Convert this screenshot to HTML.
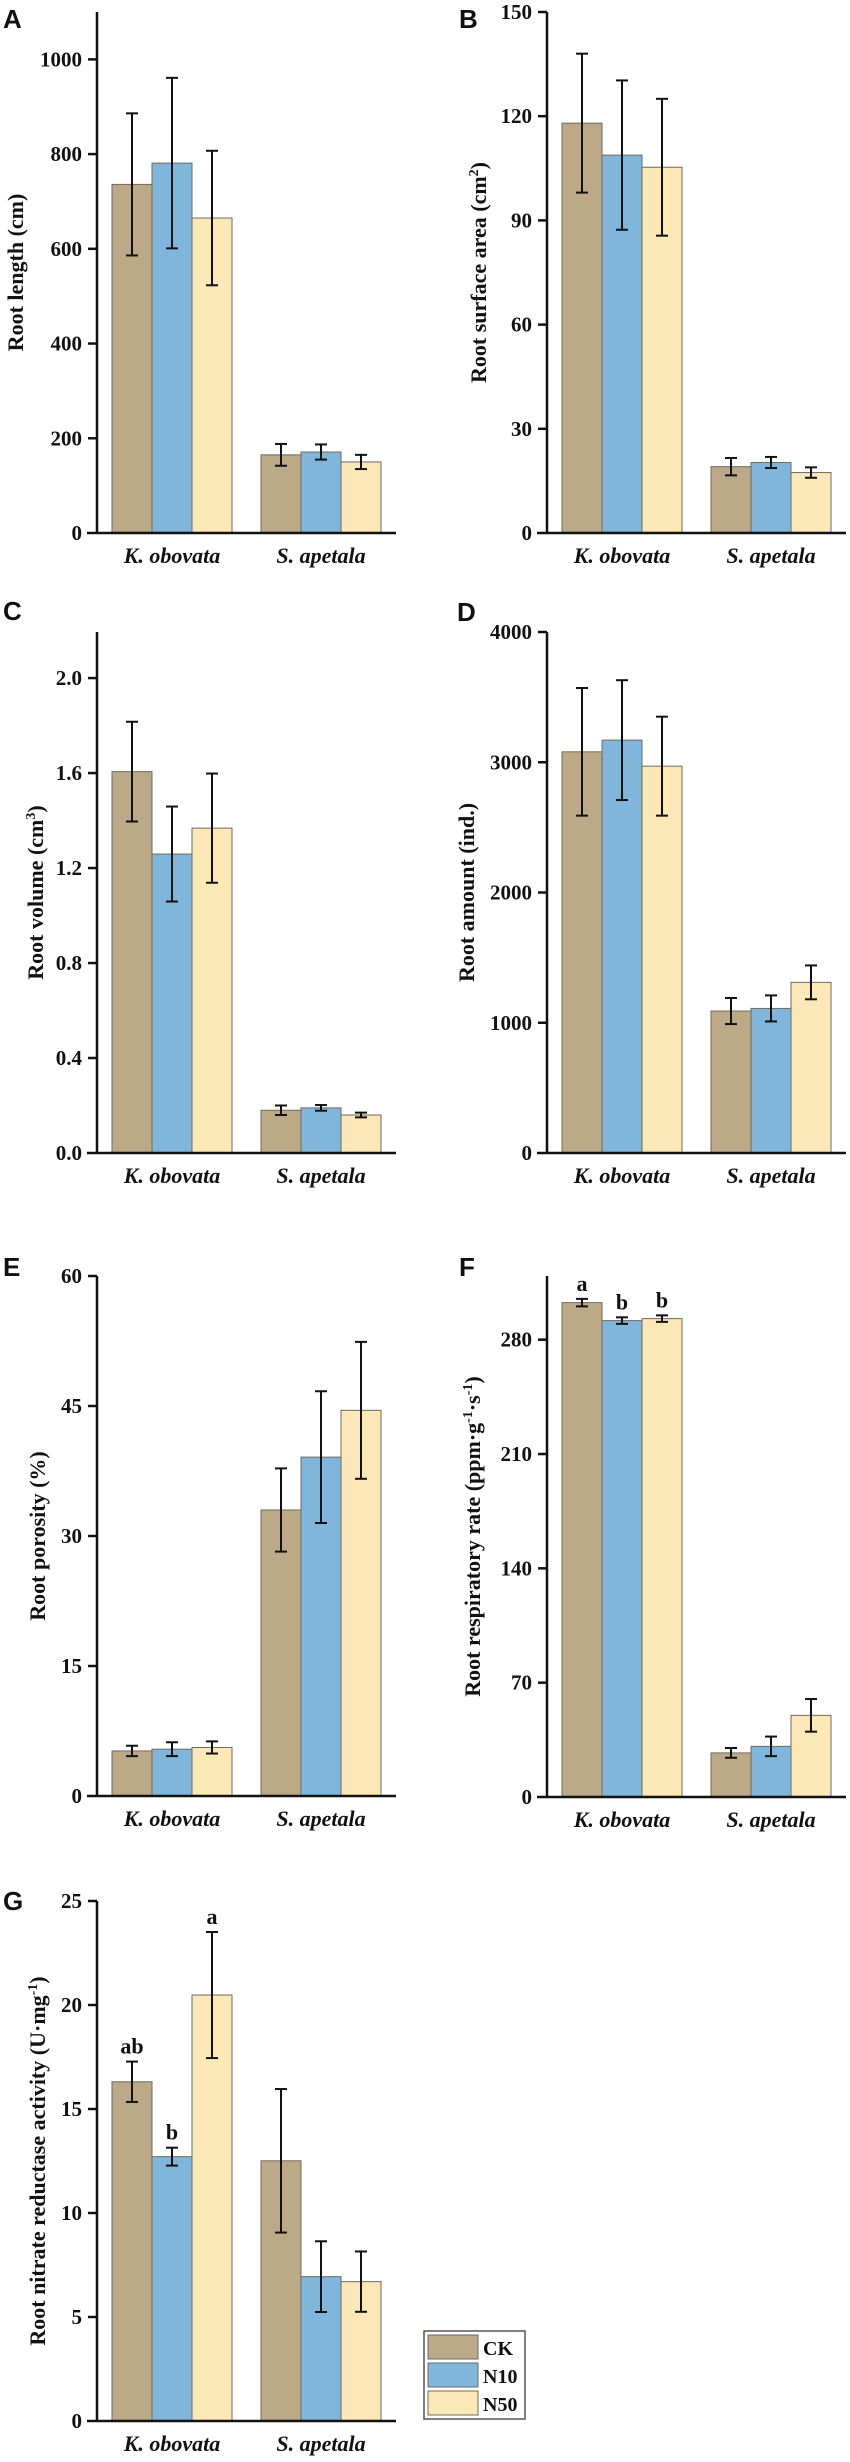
<!DOCTYPE html>
<html><head><meta charset="utf-8"><style>
html,body{margin:0;padding:0;background:#fff;}
svg{display:block;}
text{font-family:"Liberation Serif",serif;font-weight:bold;fill:#111;}
.lt{font-family:"Liberation Sans",sans-serif;font-weight:bold;font-size:26px;}
</style></head><body>
<svg id="fig" width="850" height="2462" viewBox="0 0 850 2462" xmlns="http://www.w3.org/2000/svg"></svg>
<script>
const categories = ["K. obovata", "S. apetala"];
const seriesNames = ["CK", "N10", "N50"];
const seriesColors = ["#bba987", "#80b6dc", "#fce8b6"];

const aMeans = [[736, 781, 665], [165, 171, 150]];
const aSD = [[150, 180, 142], [23, 16, 15]];
const aTicks = [0, 200, 400, 600, 800, 1000];

const bMeans = [[118, 108.8, 105.3], [19.1, 20.3, 17.4]];
const bSD = [[20, 21.5, 19.7], [2.5, 1.6, 1.5]];
const bTicks = [0, 30, 60, 90, 120, 150];

const cMeans = [[1.606, 1.259, 1.368], [0.18, 0.19, 0.16]];
const cSD = [[0.21, 0.2, 0.23], [0.02, 0.012, 0.01]];
const cTicks = [0.0, 0.4, 0.8, 1.2, 1.6, 2.0];

const dMeans = [[3080, 3170, 2970], [1090, 1110, 1310]];
const dSD = [[490, 460, 380], [100, 100, 130]];
const dTicks = [0, 1000, 2000, 3000, 4000];

const eMeans = [[5.2, 5.4, 5.6], [33.0, 39.1, 44.5]];
const eSD = [[0.6, 0.8, 0.7], [4.8, 7.6, 7.9]];
const eTicks = [0, 15, 30, 45, 60];

const fMeans = [[302.7, 291.7, 292.9], [27, 31, 50]];
const fSD = [[2.3, 2, 2], [3, 6, 10]];
const fTicks = [0, 70, 140, 210, 280];
const fLetters = [["a", "b", "b"], ["", "", ""]];

const gMeans = [[16.31, 12.71, 20.48], [12.51, 6.94, 6.7]];
const gSD = [[0.97, 0.43, 3.03], [3.45, 1.7, 1.45]];
const gTicks = [0, 5, 10, 15, 20, 25];
const gLetters = [["ab", "b", "a"], ["", "", ""]];

const NS = "http://www.w3.org/2000/svg";
const svg = document.getElementById("fig");
function mk(tag, attrs, parent) {
  const e = document.createElementNS(NS, tag);
  for (const k in attrs) e.setAttribute(k, attrs[k]);
  (parent || svg).appendChild(e);
  return e;
}

const panels = [
  {id:"a", letter:"A", lx:3, ly:28, axisX:97, zeroY:533, topY:12, yMax:1100, ticks:aTicks, dec:0, means:aMeans, sd:aSD, titleX:15, title:["Root length (cm)"]},
  {id:"b", letter:"B", lx:459, ly:28, axisX:547, zeroY:533, topY:12, yMax:150, ticks:bTicks, dec:0, means:bMeans, sd:bSD, titleX:478, title:["Root surface area (cm","2",")"]},
  {id:"c", letter:"C", lx:3, ly:620, axisX:97, zeroY:1153, topY:632, yMax:2.194, ticks:cTicks, dec:1, means:cMeans, sd:cSD, titleX:35, title:["Root volume (cm","3",")"]},
  {id:"d", letter:"D", lx:457, ly:621, axisX:547, zeroY:1153, topY:632, yMax:4000, ticks:dTicks, dec:0, means:dMeans, sd:dSD, titleX:466, title:["Root amount (ind.)"]},
  {id:"e", letter:"E", lx:3, ly:1276, axisX:97, zeroY:1796, topY:1276, yMax:60, ticks:eTicks, dec:0, means:eMeans, sd:eSD, titleX:37, title:["Root porosity (%)"]},
  {id:"f", letter:"F", lx:459, ly:1276, axisX:547, zeroY:1797, topY:1276, yMax:319, ticks:fTicks, dec:0, means:fMeans, sd:fSD, letters:fLetters, titleX:472, title:["Root respiratory rate (ppm·g","-1","·s","-1",")"]},
  {id:"g", letter:"G", lx:3, ly:1910, axisX:97, zeroY:2421, topY:1901, yMax:25, ticks:gTicks, dec:0, means:gMeans, sd:gSD, letters:gLetters, titleX:37, title:["Root nitrate reductase activity (U·mg","-1",")"]}
];

panels.forEach(p => {
  const g = mk("g", {});
  
  
  const y = v => p.zeroY - (v / p.yMax) * (p.zeroY - p.topY);
  const groupX = gi => p.axisX + 15 + gi * 149;
  const bw = 40;

  const lt = mk("text", {x:p.lx, y:p.ly, class:"lt"}, g);
  lt.textContent = p.letter;
  
  

  // bars
  p.means.forEach((grp, gi) => {
    grp.forEach((v, si) => {
      const x = groupX(gi) + si * bw;
      const r = mk("rect", {x:x, y:y(v), width:bw, height:p.zeroY - y(v), fill:seriesColors[si], stroke:"#6e6a5e", "stroke-width":1}, g);
      
      
    });
  });
  // error bars
  p.means.forEach((grp, gi) => {
    grp.forEach((v, si) => {
      const cx = groupX(gi) + si * bw + bw / 2;
      const s = p.sd[gi][si];
      const eb = mk("g", {stroke:"#111", "stroke-width":2}, g);
      
      
      mk("line", {x1:cx, x2:cx, y1:y(v + s), y2:y(v - s)}, eb);
      mk("line", {x1:cx - 6, x2:cx + 6, y1:y(v + s), y2:y(v + s)}, eb);
      mk("line", {x1:cx - 6, x2:cx + 6, y1:y(v - s), y2:y(v - s)}, eb);
      if (p.letters && p.letters[gi][si]) {
        const t = mk("text", {x:cx, y:y(v + s) - 8, "text-anchor":"middle", "font-size":22}, g);
        t.textContent = p.letters[gi][si];
        
        
      }
    });
  });
  // axes
  const ya = mk("line", {x1:p.axisX, x2:p.axisX, y1:p.topY, y2:p.zeroY + 1, stroke:"#111", "stroke-width":2.5}, g);
  
  
  const xa = mk("line", {x1:p.axisX - 10, x2:p.axisX + 299, y1:p.zeroY, y2:p.zeroY, stroke:"#111", "stroke-width":2.5}, g);
  
  
  p.ticks.forEach(tv => {
    const ty = y(tv);
    if (tv !== 0) mk("line", {x1:p.axisX - 9, x2:p.axisX, y1:ty, y2:ty, stroke:"#111", "stroke-width":2.5}, g);
    const t = mk("text", {x:p.axisX - 15, y:ty + 7, "text-anchor":"end", "font-size":21}, g);
    t.textContent = tv.toFixed(p.dec);
    
    
  });
  categories.forEach((c, gi) => {
    const t = mk("text", {x:groupX(gi) + 60, y:p.zeroY + 30, "text-anchor":"middle", "font-size":22, "font-style":"italic"}, g);
    t.textContent = c;
    
    
  });
  // title
  const cy = (p.topY + p.zeroY) / 2;
  const tt = mk("text", {x:0, y:0, "text-anchor":"middle", "font-size":22, transform:"translate(" + (p.titleX + 8) + "," + cy + ") rotate(-90)"}, g);
  
  
  p.title.forEach((part, i) => {
    const sup = i % 2 === 1;
    const ts = mk("tspan", sup ? {"font-size":14, dy:-8} : (i > 0 ? {"font-size":22, dy:8} : {}), tt);
    ts.textContent = part;
  });
});

// legend
const leg = mk("g", {});


mk("rect", {x:424, y:2331, width:101, height:88, fill:"#fff", stroke:"#555", "stroke-width":1.5}, leg);
seriesNames.forEach((n, i) => {
  const e = mk("g", {}, leg);
  
  
  mk("rect", {x:428, y:2335 + i * 28, width:50, height:24, fill:seriesColors[i], stroke:"#6e6a5e", "stroke-width":1}, e);
  const t = mk("text", {x:483, y:2355 + i * 28, "font-size":20}, e);
  t.textContent = n;
});
</script>
</body></html>
